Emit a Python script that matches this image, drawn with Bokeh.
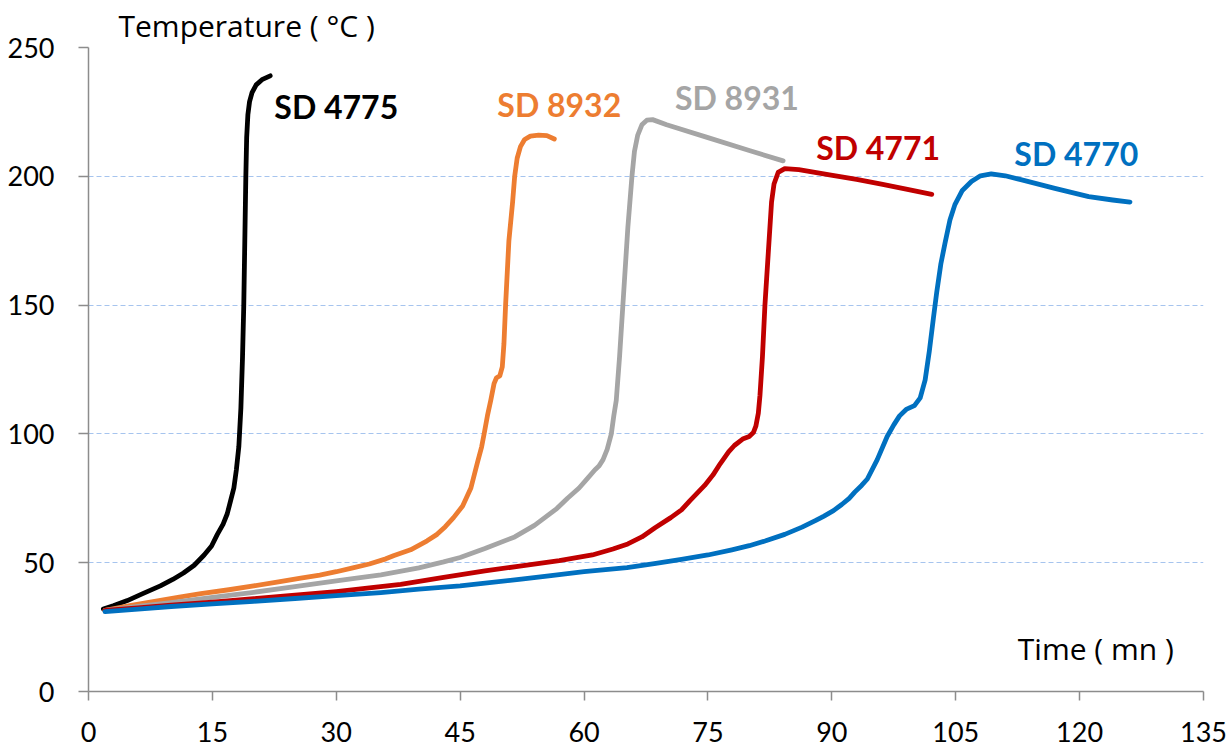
from bokeh.plotting import figure
from bokeh.models import Range1d, FixedTicker, Label
from bokeh.embed import file_html
from bokeh.resources import INLINE

# ---- data ----
x_ticks = [0, 15, 30, 45, 60, 75, 90, 105, 120, 135]
y_ticks = [0, 50, 100, 150, 200, 250]

sd4775_t = [1.8, 3, 4.7, 6.5, 8.7, 10.2, 11.5, 12.8, 14.0, 14.9, 15.6, 16.3, 16.8, 17.2, 17.6, 17.9, 18.2,
            18.45, 18.65, 18.8, 18.95, 19.05, 19.15, 19.3, 19.5, 19.8, 20.3, 21.0, 22.0]
sd4775_T = [32, 33.3, 35.3, 37.9, 41, 43.5, 46, 49, 53, 56.5, 61, 65, 69, 74, 79, 86, 95,
            110, 130, 150, 180, 200, 215, 224, 229, 232.5, 235.5, 237.5, 239]

sd8932_t = [2, 5, 8, 11, 13.6, 17, 20, 23, 25.7, 28, 30, 32, 34, 36, 37, 39, 41, 42.2, 43.2, 44.2, 45.3,
            46.3, 47.1, 47.6, 47.9, 48.3, 48.7, 49.1, 49.4, 49.8, 50.1, 50.3, 50.5, 50.9, 51.35, 51.6,
            51.9, 52.3, 52.8, 53.5, 54.5, 55.5, 56.4]
sd8932_T = [31.5, 33.3, 35, 36.6, 38, 39.5, 41, 42.6, 44, 45.2, 46.5, 48, 49.5, 51.5, 52.8, 55, 58.5, 61, 64, 67.5, 72,
            79, 89, 95, 100, 107, 113, 119.5, 121.8, 122.5, 126, 135, 150, 175, 190, 200,
            207, 211.5, 214.3, 215.6, 216, 215.8, 214.5]

sd8931_t = [2, 6, 10, 15, 20, 25, 28.9, 32, 35.4, 40, 43, 45, 48, 51.6, 54, 56.7, 58, 59.4, 60.5, 61.3,
            61.8, 62.3, 62.8, 63.3, 63.6, 63.9, 64.3, 64.7, 65.3, 65.8, 66.1, 66.5, 67.0, 67.6, 68.3,
            70, 75, 80, 84.1]
sd8931_T = [31.5, 33, 34.5, 36.5, 38.5, 40.7, 42.5, 43.8, 45.3, 48, 50.3, 52, 55.5, 60, 64.5, 71, 75, 79, 83, 86,
            87.5, 90, 94, 100, 107, 113, 130, 150, 180, 200, 209.6, 216, 220, 221.8, 222,
            220, 215, 210, 206]

sd4771_t = [2, 6, 10, 15, 20, 25, 30, 34, 37.8, 43, 48, 52, 57, 61, 63.5, 65.3, 67, 68.6, 70.5, 71.8, 72.8,
            74.6, 75.6, 76.5, 77.5, 78.2, 79.2, 80.0, 80.5, 80.8, 81.1, 81.3, 81.6, 81.9, 82.3, 82.7,
            83.0, 83.5, 84.3, 86, 89.9, 93, 96, 99, 102.1]
sd4771_T = [31.5, 32.5, 33.5, 34.7, 36, 37.4, 38.8, 40.2, 41.6, 44.3, 46.8, 48.6, 50.8, 53, 55.3, 57.3, 60, 63.6, 67.5, 70.5, 74,
            80, 84, 88.5, 93, 95.5, 98, 99, 100.5, 103, 108, 115, 130, 150, 170, 190,
            197, 201.5, 203, 202.6, 200.5, 198.8, 197, 195, 193]

sd4770_t = [2, 6, 10, 15, 20, 25, 30, 35.4, 40, 45, 52.4, 56, 60, 65.2, 68.5, 71.8, 75, 77.9, 80, 82,
            84.3, 86.4, 88, 89, 90.2, 91.2, 92.1, 92.8, 93.6, 94.3, 95.5, 96.7, 97.5, 98.2, 99.0, 100,
            100.7, 101.3, 101.8, 102.3, 102.7, 103.2, 103.7, 104.3, 104.9, 105.8, 106.9, 108, 109.3,
            111, 113, 117, 121.1, 124, 126.1]
sd4770_T = [31, 32, 33, 34, 35, 36.1, 37.2, 38.4, 39.7, 41, 43.6, 45, 46.5, 48.1, 49.6, 51.3, 53, 55, 56.6, 58.5,
            61, 63.8, 66.3, 68, 70.2, 72.6, 75, 77.5, 80, 82.5, 90, 99, 103.5, 107, 109.5, 111,
            114, 121, 132, 145, 155, 166, 174, 183, 189, 194.5, 198, 200.2, 200.9,
            200.2, 198.6, 195.3, 192.1, 190.8, 190]

series_names = ["SD 4775", "SD 8932", "SD 8931", "SD 4771", "SD 4770"]
series_t = [sd4775_t, sd8932_t, sd8931_t, sd4771_t, sd4770_t]
series_T = [sd4775_T, sd8932_T, sd8931_T, sd4771_T, sd4770_T]
colors = ["#000000", "#ED7D31", "#A5A5A5", "#C00000", "#0070C0"]
# label anchor (left, vertical centre) in data units
label_pos = [(22.5, 227.2), (49.5, 227.7), (71.0, 230.4), (88.1, 211.0), (112.1, 208.9)]

FONT = "Lato"
TITLE_FONT = "Open Sans"

p = figure(width=1232, height=749, output_backend="svg", toolbar_location=None,
           x_range=Range1d(0, 135), y_range=Range1d(0, 250))
p.min_border_left = 88
p.min_border_right = 29
p.min_border_top = 46
p.min_border_bottom = 58
p.outline_line_color = None
p.background_fill_color = "white"
p.border_fill_color = "white"

p.title.text = "Temperature ( °C )"
p.title.align = "left"
p.title.offset = 30
p.title.standoff = 4
p.title.text_font = TITLE_FONT
p.title.text_font_size = "30px"
p.title.text_font_style = "normal"
p.title.text_color = "black"

p.xgrid.visible = False
p.ygrid.grid_line_color = "#a6c4ee"
p.ygrid.grid_line_dash = "5 3"
p.ygrid.grid_line_width = 1

for ax, ticks in ((p.xaxis[0], x_ticks), (p.yaxis[0], y_ticks)):
    ax.ticker = FixedTicker(ticks=ticks)
    ax.axis_line_color = "#8c8c8c"
    ax.axis_line_width = 1.5
    ax.major_tick_line_color = "#8c8c8c"
    ax.major_tick_line_width = 1.5
    ax.major_tick_in = 0
    ax.minor_tick_line_color = None
    ax.major_label_text_font = FONT
    ax.major_label_text_font_size = "27px"
    ax.major_label_text_color = "black"

p.xaxis.major_tick_out = 9
p.xaxis.major_label_standoff = 21
p.yaxis.major_tick_out = 10
p.yaxis.major_label_standoff = 24

for name, t, T, c in zip(series_names, series_t, series_T, colors):
    p.line(t, T, line_color=c, line_width=4.8, line_cap="round", line_join="round")

for name, (lx, ly), c in zip(series_names, label_pos, colors):
    p.add_layout(Label(x=lx, y=ly, text=name, text_color=c, text_font=FONT,
                       text_font_style="bold", text_font_size="32px",
                       text_align="left", text_baseline="middle"))

p.add_layout(Label(x=131.4, y=16.7, text="Time ( mn )", text_color="black",
                   text_font=TITLE_FONT, text_font_size="30px",
                   text_align="right", text_baseline="middle"))

open("out.html", "w").write(file_html(p, INLINE))
